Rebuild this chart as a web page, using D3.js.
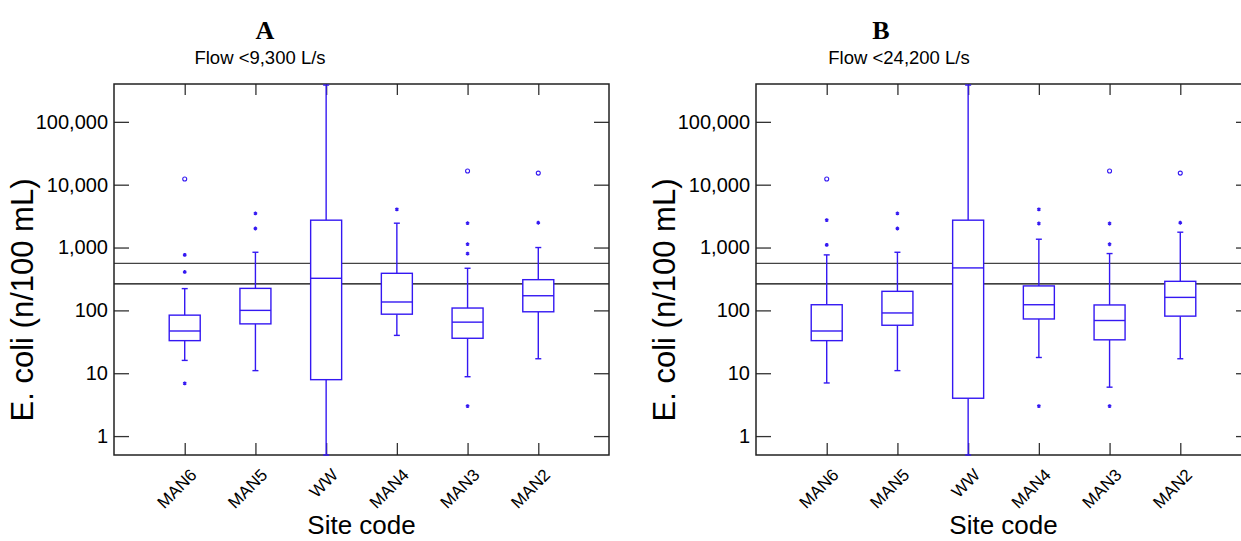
<!DOCTYPE html>
<html>
<head>
<meta charset="utf-8">
<script src="https://cdn.jsdelivr.net/npm/d3@7"></script>
<style>
  body { margin: 0; background: #fff; }
  text { font-family: "Liberation Sans", Arial, sans-serif; }
</style>
</head>
<body>
<div id="chart"></div>
<script>
// site codes along the x axis
var sites = ["MAN6", "MAN5", "WW", "MAN4", "MAN3", "MAN2"];
var yTicks = [1, 10, 100, 1000, 10000, 100000];
var refLines = [560, 265];

// panel A: flow < 9,300 L/s
var aLow = [16, 11, 0.5, 40, 8.8, 17];
var aQ1 = [33, 61, 7.9, 87, 36, 95];
var aMed = [47, 100, 324, 136, 65, 171];
var aQ3 = [84, 224, 2725, 389, 109, 308];
var aHigh = [222, 841, 385000, 2440, 468, 1000];
var aStars = [[764, 409, 6.9], [3485, 2010], [], [4040], [2440, 1130, 800, 3], [2480]];
var aCircles = [[12300], [], [], [], [16500], [15300]];

// panel B: flow < 24,200 L/s
var bLow = [7, 11, 0.5, 17.8, 6, 17];
var bQ1 = [33, 58, 4, 73, 34, 81];
var bMed = [47, 91, 474, 123, 69, 161];
var bQ3 = [123, 201, 2725, 245, 122, 290];
var bHigh = [764, 841, 385000, 1356, 802, 1754];
var bStars = [[1104, 2725], [3485, 2010], [], [4040, 2415, 3], [1129, 2415, 3], [2480]];
var bCircles = [[12300], [], [], [], [16500], [15300]];

function init() {
    var w = 1241;
    var h = 541;
    var blue = "#3418f2";

    var svg = d3.select("#chart").append("svg")
        .attr("width", w)
        .attr("height", h);

    drawPanel({ left: 114, letter: "A", sub: "Flow <9,300 L/s", titleX: 265, subX: 260,
        low: aLow, q1: aQ1, med: aMed, q3: aQ3, high: aHigh, stars: aStars, circles: aCircles });
    drawPanel({ left: 756, letter: "B", sub: "Flow <24,200 L/s", titleX: 881, subX: 899,
        low: bLow, q1: bQ1, med: bMed, q3: bQ3, high: bHigh, stars: bStars, circles: bCircles });

    function drawPanel(p) {
        var top = 84, bottom = 455, width = 495;
        var g = svg.append("g").attr("transform", `translate(${p.left},0)`);

        var x = d3.scalePoint().domain(sites).range([0, width]).padding(1);
        var y = d3.scaleLog().domain([0.5, 400000]).range([bottom, top]);

        var rows = sites.map((s, i) => ({
            site: s, low: p.low[i], q1: p.q1[i], med: p.med[i], q3: p.q3[i], high: p.high[i],
            stars: p.stars[i], circles: p.circles[i]
        }));

        // titles
        svg.append("text")
            .attr("x", p.titleX).attr("y", 39)
            .attr("text-anchor", "middle")
            .style("font-family", "'Liberation Serif', 'Times New Roman', serif")
            .style("font-weight", "bold")
            .style("font-size", "26px")
            .text(p.letter);
        svg.append("text")
            .attr("x", p.subX).attr("y", 64)
            .attr("text-anchor", "middle")
            .style("font-size", "18.5px")
            .text(p.sub);

        // reference lines
        g.selectAll(".ref")
            .data(refLines)
            .enter().append("line")
            .attr("x1", 0).attr("x2", width)
            .attr("y1", d => y(d)).attr("y2", d => y(d))
            .attr("stroke", (d, i) => i === 0 ? "#444" : "#000")
            .attr("stroke-width", 1.3);

        // y ticks, left with labels, right without
        var yl = g.append("g").call(d3.axisLeft(y).tickValues(yTicks).tickFormat(d3.format(",")).tickSize(-15).tickPadding(6));
        yl.select(".domain").remove();
        yl.selectAll("line").attr("stroke", "#333").attr("stroke-width", 1.3);
        yl.selectAll("text").style("font-size", "20px").attr("fill", "#000")
            .attr("font-family", null);
        var yr = g.append("g").attr("transform", `translate(${width},0)`)
            .call(d3.axisRight(y).tickValues(yTicks).tickFormat("").tickSize(-15));
        yr.select(".domain").remove();
        yr.selectAll("line").attr("stroke", "#333").attr("stroke-width", 1.3);

        // x ticks, bottom and top
        var xb = g.append("g").attr("transform", `translate(0,${bottom})`)
            .call(d3.axisBottom(x).tickSize(-12).tickFormat(""));
        xb.select(".domain").remove();
        xb.selectAll("line").attr("stroke", "#333").attr("stroke-width", 1.3);
        var xt = g.append("g").attr("transform", `translate(0,${top})`)
            .call(d3.axisTop(x).tickSize(-11).tickFormat(""));
        xt.select(".domain").remove();
        xt.selectAll("line").attr("stroke", "#333").attr("stroke-width", 1.3);

        g.selectAll(".xlab")
            .data(sites)
            .enter().append("text")
            .attr("transform", d => `translate(${x(d) + 13},476) rotate(-45)`)
            .attr("text-anchor", "end")
            .style("font-size", "17px")
            .text(d => d);

        // frame
        g.append("rect")
            .attr("x", 0).attr("y", top)
            .attr("width", width).attr("height", bottom - top)
            .attr("fill", "none").attr("stroke", "#222").attr("stroke-width", 1.5);

        // boxes
        var bw = 31, cw = 6;
        var box = g.selectAll(".box")
            .data(rows)
            .enter().append("g")
            .attr("transform", d => `translate(${x(d.site)},0)`)
            .attr("stroke", blue).attr("fill", "none").attr("stroke-width", 1.4);

        box.append("line").attr("x1", 0).attr("x2", 0)
            .attr("y1", d => y(d.q3)).attr("y2", d => y(d.high));
        box.append("line").attr("x1", 0).attr("x2", 0)
            .attr("y1", d => y(d.q1)).attr("y2", d => y(d.low));
        box.append("line").attr("x1", -cw / 2).attr("x2", cw / 2)
            .attr("y1", d => y(d.high)).attr("y2", d => y(d.high));
        box.append("line").attr("x1", -cw / 2).attr("x2", cw / 2)
            .attr("y1", d => y(d.low)).attr("y2", d => y(d.low));
        box.append("rect")
            .attr("x", -bw / 2).attr("width", bw)
            .attr("y", d => y(d.q3)).attr("height", d => y(d.q1) - y(d.q3))
            .attr("fill", "#fff");
        box.append("line").attr("x1", -bw / 2).attr("x2", bw / 2)
            .attr("y1", d => y(d.med)).attr("y2", d => y(d.med));

        // outliers: * for outside values, o for far-out values
        var star = d3.symbol().type(d3.symbolAsterisk).size(10);
        box.selectAll(".star")
            .data(d => d.stars)
            .enter().append("path")
            .attr("d", star)
            .attr("transform", d => `translate(0,${y(d)})`)
            .attr("stroke-width", 1.4);
        box.selectAll(".circ")
            .data(d => d.circles)
            .enter().append("circle")
            .attr("cy", d => y(d)).attr("r", 2)
            .attr("stroke-width", 1.1);

        // axis titles
        g.append("text")
            .attr("x", width / 2).attr("y", 534)
            .attr("text-anchor", "middle")
            .style("font-size", "26px")
            .text("Site code");
        g.append("text")
            .attr("transform", "rotate(-90)")
            .attr("x", -300).attr("y", -81)
            .attr("text-anchor", "middle")
            .style("font-size", "31px")
            .text("E. coli (n/100 mL)");
    }
}

window.onload = init;
</script>
</body>
</html>
